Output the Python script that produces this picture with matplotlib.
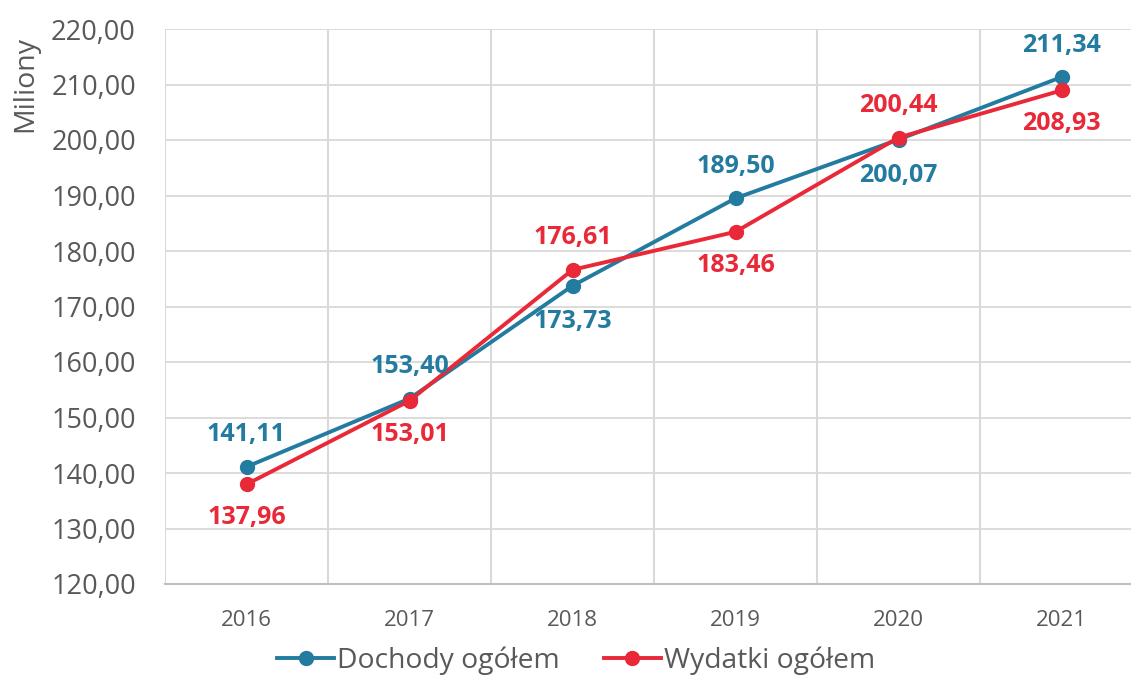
import matplotlib
matplotlib.use("Agg")
import matplotlib.pyplot as plt
from matplotlib.ticker import FuncFormatter, FixedLocator

plt.rcParams['font.family'] = ['Open Sans', 'DejaVu Sans']

years = ['2016', '2017', '2018', '2019', '2020', '2021']
dochody = [141.11, 153.40, 173.73, 189.50, 200.07, 211.34]
wydatki = [137.96, 153.01, 176.61, 183.46, 200.44, 208.93]
dochody_pos = ['above', 'above', 'below', 'above', 'below', 'above']
wydatki_pos = ['below', 'below', 'above', 'below', 'above', 'below']

BLUE = '#237BA0'
RED = '#E92838'
GREY_TXT = '#595959'

fig = plt.figure(figsize=(11.31, 6.77), dpi=100)
ax = fig.add_axes([165/1131, 1-584/677, 978/1131, (584-29)/677])

x = list(range(len(years)))
ax.plot(x, dochody, color=BLUE, lw=2.8, marker='o', ms=10, label='Dochody ogółem', zorder=3)
ax.plot(x, wydatki, color=RED, lw=2.8, marker='o', ms=10, label='Wydatki ogółem', zorder=4)

def fmt(v):
    return f"{v:.2f}".replace('.', ',')

for xi, v, p in zip(x, dochody, dochody_pos):
    off = 23 if p == 'above' else -26
    ax.annotate(fmt(v), (xi, v), xytext=(0, off), textcoords='offset points',
                ha='center', va='center', color=BLUE, fontsize=18, fontweight='bold', zorder=5)
for xi, v, p in zip(x, wydatki, wydatki_pos):
    off = 23 if p == 'above' else -24
    ax.annotate(fmt(v), (xi, v), xytext=(0, off), textcoords='offset points',
                ha='center', va='center', color=RED, fontsize=18, fontweight='bold', zorder=5)

ax.set_xlim(-0.5, len(years) - 0.5)
ax.set_ylim(120, 220)
ax.set_yticks(range(120, 221, 10))
ax.yaxis.set_major_formatter(FuncFormatter(lambda v, p: fmt(v)))
ax.set_xticks(x)
ax.set_xticklabels(years)
ax.xaxis.set_minor_locator(FixedLocator([i - 0.5 for i in range(len(years) + 1)]))

ax.grid(axis='y', which='major', color='#D9D9D9', lw=1.3)
ax.grid(axis='x', which='minor', color='#D9D9D9', lw=1.5)
ax.set_axisbelow(True)
for s in ['top', 'right', 'left']:
    ax.spines[s].set_visible(False)
ax.spines['bottom'].set_color('#BFBFBF')
ax.spines['bottom'].set_linewidth(1.5)

ax.tick_params(axis='both', which='both', length=0)
ax.tick_params(axis='y', labelsize=19.5, labelcolor=GREY_TXT, pad=21)
ax.tick_params(axis='x', labelsize=16, labelcolor=GREY_TXT, pad=19)

ax.set_ylabel('Miliony', fontsize=20.5, color=GREY_TXT)
ax.yaxis.set_label_coords(-(165 - 39)/978, 0.9)

leg = fig.legend(loc='center', bbox_to_anchor=(576/1131, 1-661/677), ncol=2, frameon=False,
                 fontsize=20.3, labelcolor=GREY_TXT, handlelength=2.0, handletextpad=0.1,
                 columnspacing=1.6)

fig.savefig('out.png', dpi=100)
